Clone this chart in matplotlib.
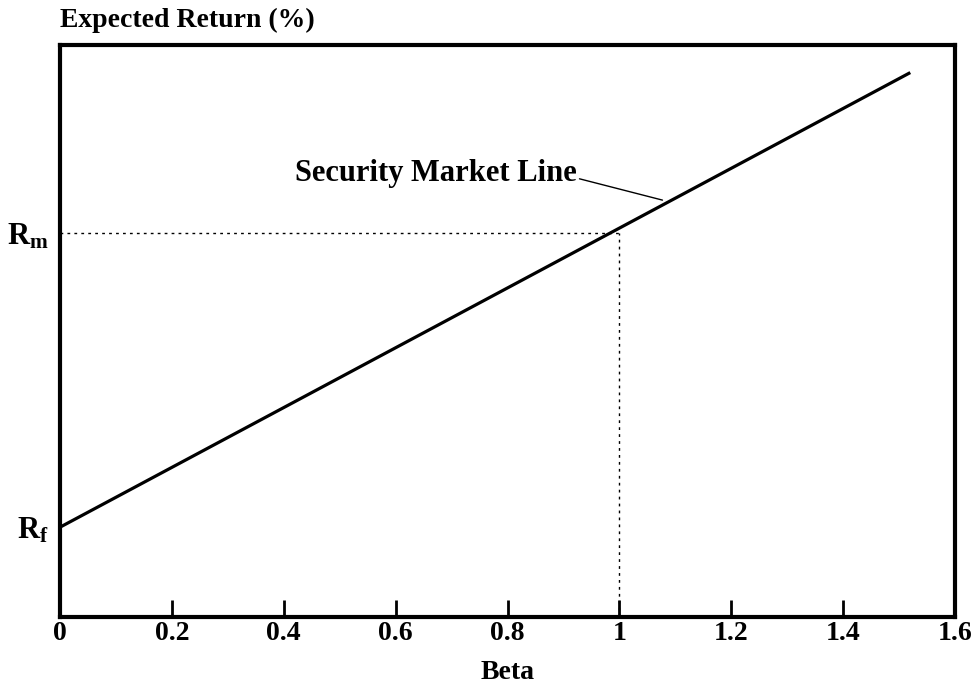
import matplotlib.pyplot as plt

plt.rcParams['font.family'] = 'Liberation Serif'
plt.rcParams['font.weight'] = 'bold'
plt.rcParams['mathtext.fontset'] = 'custom'
plt.rcParams['mathtext.rm'] = 'Liberation Serif:bold'
plt.rcParams['mathtext.bf'] = 'Liberation Serif:bold'
plt.rcParams['mathtext.it'] = 'Liberation Serif:bold'

# Security market line values (arbitrary return units)
beta = [0, 1.52]
sml = [1.57, 9.52]
rf = 1.57
rm = 6.71
beta_m = 1.0

xticks = [0, 0.2, 0.4, 0.6, 0.8, 1, 1.2, 1.4, 1.6]
xticklabels = ['0', '0.2', '0.4', '0.6', '0.8', '1', '1.2', '1.4', '1.6']

fig = plt.figure(figsize=(9.76, 6.84), dpi=100)
ax = fig.add_axes([0.0615, 0.098, 0.917, 0.836])

ax.plot(beta, sml, color='black', linewidth=2.3, solid_capstyle='butt')
ax.plot([0, beta_m], [rm, rm], color='black', linewidth=1, linestyle=(0, (2, 3)))
ax.plot([beta_m, beta_m], [0, rm], color='black', linewidth=1, linestyle=(0, (2, 3)))

ax.set_xlim(0, 1.6)
ax.set_ylim(0, 10)

ax.set_xticks(xticks)
ax.set_xticklabels(xticklabels, fontsize=20, fontweight='bold')
ax.tick_params(axis='x', direction='in', length=12, width=2, pad=3)

ax.set_yticks([rf, rm])
ax.set_yticklabels([r'$\mathbf{R_f}$', r'$\mathbf{R_m}$'], fontsize=22)
ax.tick_params(axis='y', length=0, pad=8)

for s in ax.spines.values():
    s.set_linewidth(3)

ax.set_xlabel('Beta', fontsize=20, fontweight='bold', labelpad=10)
fig.text(0.061, 0.97, 'Expected Return (%)', fontsize=20, fontweight='bold',
         ha='left', va='center')

ax.annotate('Security Market Line', xy=(1.077, 7.29), xytext=(0.42, 7.62),
            fontsize=22, fontweight='bold', ha='left', va='baseline',
            arrowprops=dict(arrowstyle='-', color='black', linewidth=1,
                            shrinkA=0, shrinkB=0, relpos=(1, 0.35)))

plt.savefig('out.png', dpi=100)
